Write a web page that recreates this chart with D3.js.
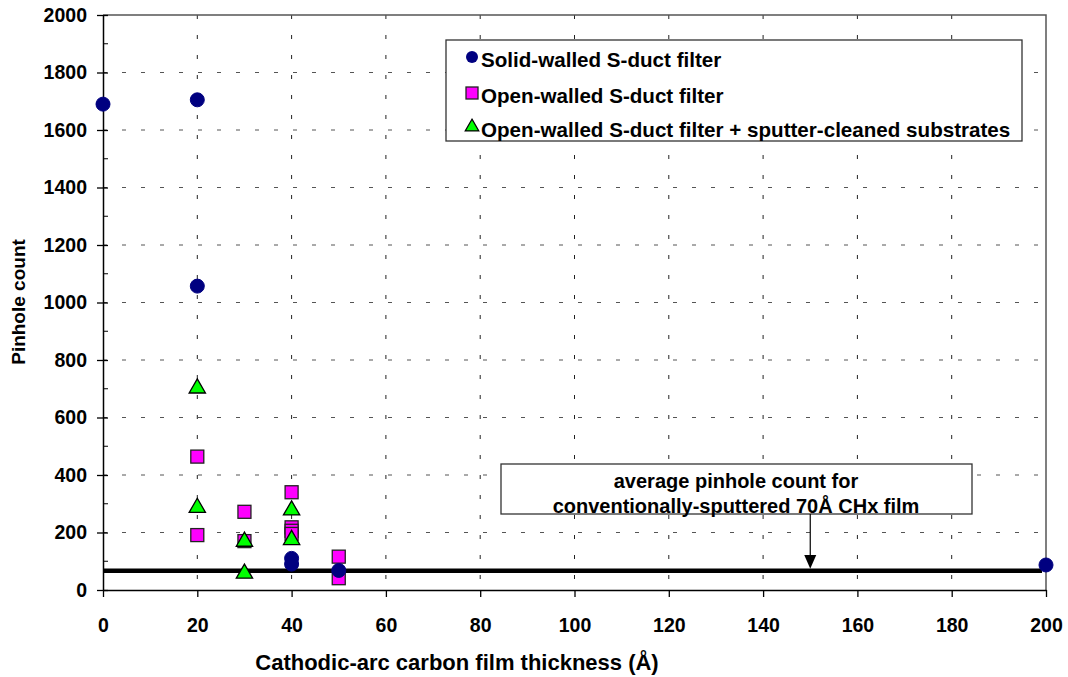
<!DOCTYPE html>
<html>
<head>
<meta charset="utf-8">
<script src="https://cdn.jsdelivr.net/npm/d3@7"></script>
<style>
  body { margin: 0; background: #fff; }
  svg text { font-family: "Liberation Sans", Arial, sans-serif; font-weight: bold; fill: #000; }
</style>
</head>
<body>
<svg id="chart" width="1068" height="677"></svg>
<script>
// data
const solidX = [0, 20, 20, 40, 40, 50, 200];
const solidY = [1690, 1705, 1057, 110, 90, 68, 87];
const openX = [20, 20, 30, 30, 40, 40, 40, 40, 50, 50];
const openY = [464, 191, 272, 170, 340, 218, 206, 195, 116, 41];
const cleanX = [20, 20, 30, 30, 40, 40];
const cleanY = [705, 290, 172, 61, 281, 178];
const refX = [0, 200];
const refY = [67, 67];
const arrowX = 150;
const xTicks = [0, 20, 40, 60, 80, 100, 120, 140, 160, 180, 200];
const yTicks = [0, 200, 400, 600, 800, 1000, 1200, 1400, 1600, 1800, 2000];
const yMinor = [100, 300, 500, 700, 900, 1100, 1300, 1500, 1700, 1900];
const legendLabels = ["Solid-walled S-duct filter", "Open-walled S-duct filter",
  "Open-walled S-duct filter + sputter-cleaned substrates"];
const noteLines = ["average pinhole count for", "conventionally-sputtered 70Å CHx film"];

const svg = d3.select("#chart");
let plotL = 103, plotR = 1046, plotT = 15, plotB = 590;

let x = d3.scaleLinear().domain([0, 200]).range([plotL, plotR]);
let y = d3.scaleLinear().domain([0, 2000]).range([plotB, plotT]);

// grid
let grid = svg.append("g");
grid.selectAll(".hg").data(yTicks.slice(1, -1)).enter().append("line")
    .attr("x1", plotL).attr("x2", plotR)
    .attr("y1", d => y(d)).attr("y2", d => y(d))
    .attr("stroke", "#555").attr("stroke-dasharray", "4,15");
grid.selectAll(".vg").data(xTicks.slice(1, -1)).enter().append("line")
    .attr("x1", d => x(d)).attr("x2", d => x(d))
    .attr("y1", plotT).attr("y2", plotB)
    .attr("stroke", "#222").attr("stroke-dasharray", "4,16");

// frame (top/right)
svg.append("path")
    .attr("d", `M${plotL},${plotT}H${plotR}V${plotB}`)
    .attr("fill", "none").attr("stroke", "#555").attr("stroke-width", 1.5);

// axes
let xAxis = svg.append("g")
    .attr("transform", "translate(0," + plotB + ")")
    .call(d3.axisBottom(x).tickValues(xTicks).tickFormat(d3.format("d"))
        .tickSize(7).tickPadding(21).tickSizeOuter(0));
let yAxis = svg.append("g")
    .attr("transform", "translate(" + plotL + ",0)")
    .call(d3.axisLeft(y).tickValues(yTicks).tickFormat(d3.format("d"))
        .tickSize(6).tickPadding(10).tickSizeOuter(0));
yAxis.selectAll(".tick line").attr("x2", 5).attr("x1", -6);
svg.append("g").selectAll("line").data(yMinor).enter().append("line")
    .attr("x1", plotL).attr("x2", plotL + 5)
    .attr("y1", d => y(d)).attr("y2", d => y(d)).attr("stroke", "#000");
[xAxis, yAxis].forEach(a => {
    a.select(".domain").attr("stroke", "#000").attr("stroke-width", 1.5);
    a.selectAll(".tick line").attr("stroke", "#000").attr("stroke-width", 1.3);
    a.selectAll("text").style("font-size", "19.5px").style("font-family", "'Liberation Sans', Arial, sans-serif")
        .style("font-weight", "bold");
});

// axis titles
svg.append("text").attr("x", 457).attr("y", 670).attr("text-anchor", "middle")
    .style("font-size", "22px").text("Cathodic-arc carbon film thickness (Å)");
svg.append("text").attr("transform", "translate(25,302) rotate(-90)").attr("text-anchor", "middle")
    .style("font-size", "19px").text("Pinhole count");

// reference line
svg.append("line")
    .attr("x1", x(refX[0])).attr("x2", x(refX[1]) - 4)
    .attr("y1", y(refY[0])).attr("y2", y(refY[1]))
    .attr("stroke", "#000").attr("stroke-width", 4.5);

// annotation box + arrow
let note = svg.append("g");
note.append("rect").attr("x", 501).attr("y", 464).attr("width", 471).attr("height", 50)
    .attr("fill", "#fff").attr("stroke", "#333").attr("stroke-width", 1.3);
note.selectAll("text").data(noteLines).enter().append("text")
    .attr("x", 736).attr("y", (d, i) => 488 + i * 25)
    .attr("text-anchor", "middle").style("font-size", "20px").text(d => d);
note.append("line").attr("x1", x(arrowX)).attr("x2", x(arrowX))
    .attr("y1", 514).attr("y2", 556).attr("stroke", "#000").attr("stroke-width", 1.2);
note.append("path")
    .attr("d", `M${x(arrowX) - 6},555 L${x(arrowX) + 6},555 L${x(arrowX)},${y(refY[0]) - 2}Z`)
    .attr("fill", "#000");

// markers
const tri = d3.symbol().type(d3.symbolTriangle).size(115);
function drawCircles(xs, ys) {
    svg.append("g").selectAll("circle").data(xs).enter().append("circle")
        .attr("cx", d => x(d)).attr("cy", (d, i) => y(ys[i])).attr("r", 7)
        .attr("fill", "#000080").attr("stroke", "#000080");
}
function drawSquares(xs, ys) {
    svg.append("g").selectAll("rect").data(xs).enter().append("rect")
        .attr("x", d => x(d) - 6.5).attr("y", (d, i) => y(ys[i]) - 6.5)
        .attr("width", 13).attr("height", 13)
        .attr("fill", "#ff00ff").attr("stroke", "#222").attr("stroke-width", 1.3);
}
function drawTriangles(xs, ys) {
    svg.append("g").selectAll("path").data(xs).enter().append("path")
        .attr("d", tri)
        .attr("transform", (d, i) => "translate(" + x(d) + "," + (y(ys[i]) + 1) + ")")
        .attr("fill", "#00ff00").attr("stroke", "#000").attr("stroke-width", 1.3);
}
drawSquares(openX, openY);
drawTriangles(cleanX, cleanY);
drawCircles(solidX, solidY);

// legend
let lg = svg.append("g");
lg.append("rect").attr("x", 446).attr("y", 40).attr("width", 576).attr("height", 101)
    .attr("fill", "#fff").attr("stroke", "#333").attr("stroke-width", 1.3);
let rows = [60, 96, 130];
lg.append("circle").attr("cx", 472).attr("cy", rows[0] - 3).attr("r", 6).attr("fill", "#000080");
lg.append("rect").attr("x", 466).attr("y", rows[1] - 9).attr("width", 12).attr("height", 12)
    .attr("fill", "#ff00ff").attr("stroke", "#222").attr("stroke-width", 1.3);
lg.append("path").attr("d", d3.symbol().type(d3.symbolTriangle).size(80))
    .attr("transform", "translate(472," + (rows[2] - 3) + ")")
    .attr("fill", "#00ff00").attr("stroke", "#000").attr("stroke-width", 1.2);
lg.selectAll("text").data(legendLabels).enter().append("text")
    .attr("x", 481).attr("y", (d, i) => rows[i] + 7)
    .style("font-size", "20.6px").text(d => d);
</script>
</body>
</html>
